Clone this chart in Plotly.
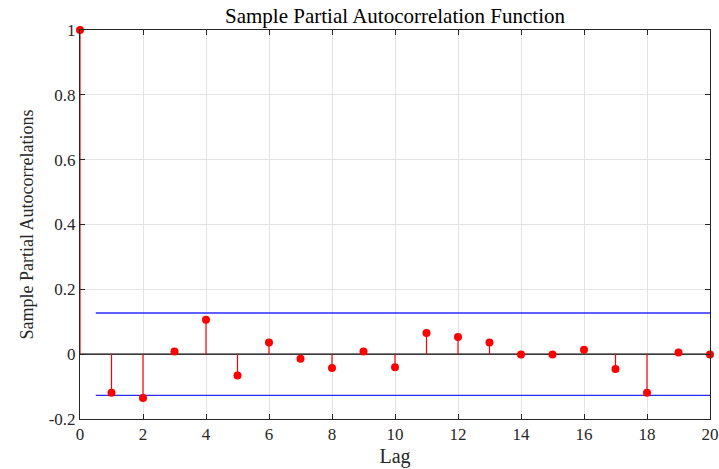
import plotly.graph_objects as go

lags = list(range(0, 21))
pacf = [1.0, -0.119, -0.135, 0.008, 0.106, -0.066, 0.036, -0.014, -0.043, 0.008,
        -0.040, 0.065, 0.053, 0.036, -0.001, -0.001, 0.014, -0.046, -0.119, 0.005, -0.001]
bound = 0.127
bound_x = [0.5, 20]

stem_x, stem_y = [], []
for l, v in zip(lags, pacf):
    stem_x += [l, l, None]
    stem_y += [0, v, None]

fig = go.Figure()
fig.add_trace(go.Scatter(x=bound_x, y=[bound, bound], mode="lines",
                         line=dict(color="#2b2bff", width=1.3), hoverinfo="skip"))
fig.add_trace(go.Scatter(x=bound_x, y=[-bound, -bound], mode="lines",
                         line=dict(color="#2b2bff", width=1.3), hoverinfo="skip"))
fig.add_trace(go.Scatter(x=[0, 20], y=[0, 0], mode="lines",
                         line=dict(color="black", width=1.3), hoverinfo="skip"))
fig.add_trace(go.Scatter(x=stem_x, y=stem_y, mode="lines",
                         line=dict(color="red", width=1.2), hoverinfo="skip"))
fig.add_trace(go.Scatter(x=lags, y=pacf, mode="markers", cliponaxis=False,
                         marker=dict(color="red", size=8)))

font = "Liberation Serif"
tickfont = dict(family=font, size=17, color="#262626")
fig.update_layout(
    width=719, height=469,
    margin=dict(l=80, r=9, t=30, b=50, autoexpand=False),
    paper_bgcolor="white", plot_bgcolor="white",
    showlegend=False,
    font=dict(family=font, size=17, color="#262626"),
    title=dict(text="Sample Partial Autocorrelation Function", x=0.5, xanchor="center",
               xref="paper", y=0.966, yanchor="middle",
               font=dict(family=font, size=21, color="black")),
    xaxis=dict(range=[0, 20], tickmode="array", tickvals=list(range(0, 21, 2)),
               automargin=False, tickfont=tickfont,
               showgrid=True, gridcolor="#e3e3e3", gridwidth=1,
               showline=True, linecolor="#262626", linewidth=1, mirror="ticks",
               ticks="inside", ticklen=5, tickcolor="#262626", zeroline=False,
               title=dict(text="Lag", font=dict(family=font, size=20, color="#262626"), standoff=5)),
    yaxis=dict(range=[-0.2, 1], tickmode="array",
               tickvals=[-0.2, 0, 0.2, 0.4, 0.6, 0.8, 1],
               ticktext=["-0.2", "0", "0.2", "0.4", "0.6", "0.8", "1"],
               automargin=False, tickfont=tickfont,
               showgrid=True, gridcolor="#e3e3e3", gridwidth=1,
               showline=True, linecolor="#262626", linewidth=1, mirror="ticks",
               ticks="inside", ticklen=5, tickcolor="#262626", zeroline=False,
               title=dict(text="Sample Partial Autocorrelations",
                          font=dict(family=font, size=18, color="#262626"), standoff=10)),
)
fig.write_html("out.html")
